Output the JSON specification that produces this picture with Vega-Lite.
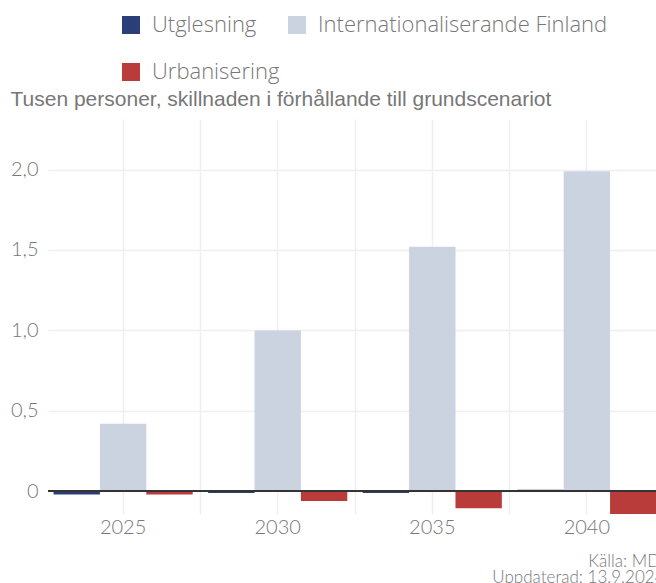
{
  "$schema": "https://vega.github.io/schema/vega-lite/v6.json",
  "autosize": {"type": "none"},
  "width": 614,
  "height": 395,
  "padding": {"left": 48, "top": 119, "right": 0, "bottom": 69},
  "background": "white",
  "config": {
    "view": {"stroke": null},
    "font": "Lato",
    "axis": {"labelFont": "Lato", "labelFontWeight": 300, "labelColor": "#777777", "labelFontSize": 20, "gridColor": "#efefef", "gridWidth": 1.5, "domain": false, "ticks": false}
  },
  "data": {
    "values": [
      {"year": "2025", "scenario": "Utglesning", "value": -0.02},
      {"year": "2025", "scenario": "Internationaliserande Finland", "value": 0.42},
      {"year": "2025", "scenario": "Urbanisering", "value": -0.02},
      {"year": "2030", "scenario": "Utglesning", "value": -0.01},
      {"year": "2030", "scenario": "Internationaliserande Finland", "value": 1.0},
      {"year": "2030", "scenario": "Urbanisering", "value": -0.06},
      {"year": "2035", "scenario": "Utglesning", "value": -0.01},
      {"year": "2035", "scenario": "Internationaliserande Finland", "value": 1.52},
      {"year": "2035", "scenario": "Urbanisering", "value": -0.105},
      {"year": "2040", "scenario": "Utglesning", "value": 0.01},
      {"year": "2040", "scenario": "Internationaliserande Finland", "value": 1.99},
      {"year": "2040", "scenario": "Urbanisering", "value": -0.15}
    ]
  },
  "layer": [
    {
      "mark": {"type": "bar", "clip": true},
      "encoding": {
        "x": {
          "field": "year", "type": "nominal",
          "scale": {"paddingInner": 0.1, "paddingOuter": 0.036},
          "axis": {
            "labelAngle": 0, "labelPadding": 3, "grid": true, "tickBand": "center",
            "title": ["Källa: MDI", "Uppdaterad: 13.9.2024"],
            "titleAnchor": "end", "titleAlign": "right", "titleX": 616, "titleY": 52,
            "titleBaseline": "alphabetic", "titleFont": "Lato", "titleFontWeight": 300,
            "titleFontSize": 17, "titleColor": "#777777", "titleLineHeight": 16
          }
        },
        "xOffset": {
          "field": "scenario", "type": "nominal",
          "sort": ["Utglesning", "Internationaliserande Finland", "Urbanisering"],
          "scale": {"paddingInner": 0, "paddingOuter": 0}
        },
        "y": {
          "field": "value", "type": "quantitative",
          "scale": {"domain": [-0.1405, 2.314], "nice": false, "zero": false},
          "axis": {
            "values": [0, 0.5, 1, 1.5, 2],
            "labelExpr": "datum.value == 0 ? '0' : replace(format(datum.value, '.1f'), '.', ',')",
            "labelPadding": 10, "grid": true,
            "title": "Tusen personer, skillnaden i förhållande till grundscenariot",
            "titleAngle": 0, "titleAlign": "left", "titleBaseline": "alphabetic",
            "titleX": -38, "titleY": -14, "titleFont": "Liberation Sans", "titleFontSize": 21,
            "titleFontWeight": "normal", "titleColor": "#777777"
          }
        },
        "color": {
          "field": "scenario", "type": "nominal",
          "scale": {
            "domain": ["Utglesning", "Internationaliserande Finland", "Urbanisering"],
            "range": ["#2c3e78", "#cbd2e0", "#b93c3b"]
          },
          "legend": {
            "orient": "none", "legendX": 72, "legendY": -105, "direction": "horizontal",
            "columns": 2, "title": null, "symbolType": "square", "symbolSize": 324,
            "symbolStrokeWidth": 0, "symbolOpacity": 1, "labelFont": "Open Sans", "labelFontWeight": 300,
            "labelFontSize": 22, "labelColor": "#777777", "labelOffset": 10,
            "rowPadding": 25, "columnPadding": 6, "labelLimit": 400
          }
        }
      }
    },
    {
      "mark": {"type": "bar", "opacity": 0},
      "encoding": {
        "x": {
          "field": "year", "type": "nominal",
          "axis": {"orient": "top", "labels": false, "title": null, "grid": true, "bandPosition": 1.0556}
        },
        "xOffset": {
          "field": "scenario", "type": "nominal",
          "sort": ["Utglesning", "Internationaliserande Finland", "Urbanisering"]
        },
        "y": {"field": "value", "type": "quantitative"}
      }
    },
    {
      "mark": {"type": "rule", "color": "#333333", "strokeWidth": 1.2},
      "encoding": {"y": {"datum": 0}}
    }
  ],
  "resolve": {"axis": {"x": "independent"}}
}
